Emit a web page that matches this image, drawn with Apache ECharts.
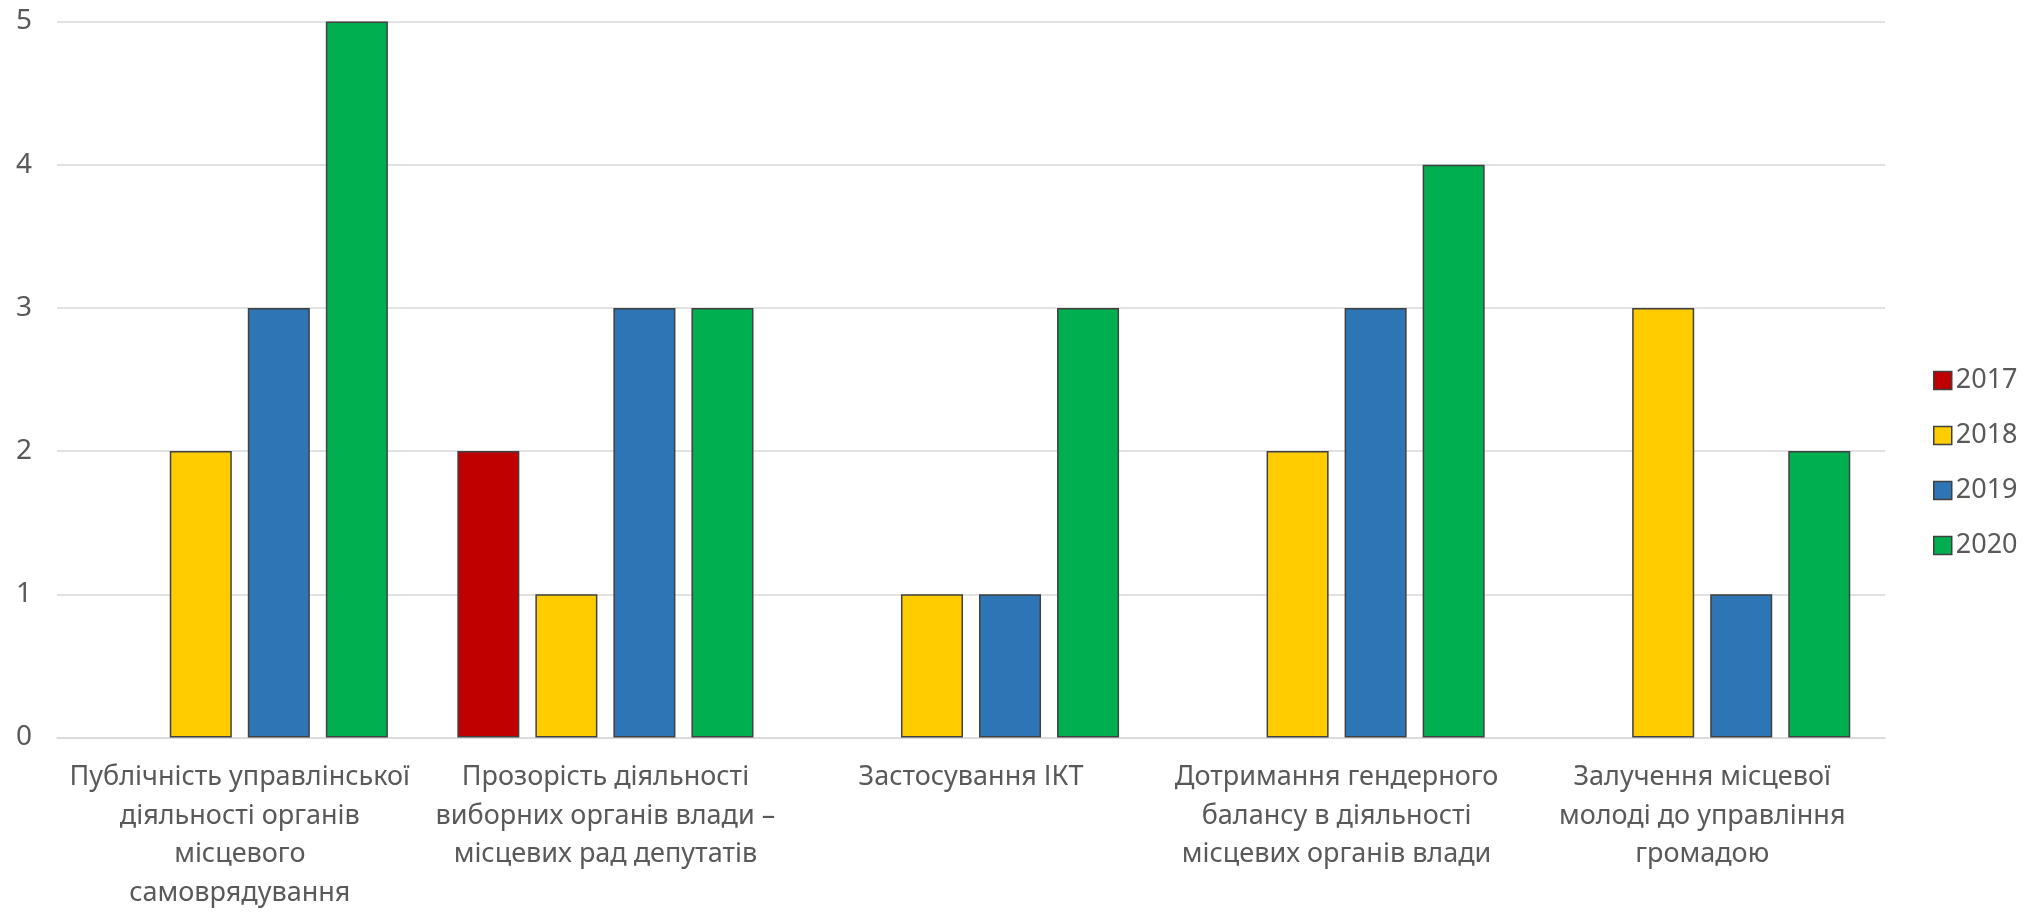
<!DOCTYPE html>
<html>
<head>
<meta charset="utf-8">
<script src="https://cdn.jsdelivr.net/npm/echarts@6/dist/echarts.min.js"></script>
<style>
html,body{margin:0;padding:0;background:#fff;}
#chart{width:2033px;height:913px;}
</style>
</head>
<body>
<div id="chart"></div>
<script>
const categories = [
  'Публічність управлінської\nдіяльності органів\nмісцевого\nсамоврядування',
  'Прозорість діяльності\nвиборних органів влади –\nмісцевих рад депутатів',
  'Застосування ІКТ',
  'Дотримання гендерного\nбалансу в діяльності\nмісцевих органів влади',
  'Залучення місцевої\nмолоді до управління\nгромадою'
];
const years = ['2017', '2018', '2019', '2020'];
const v2017 = [null, 2, null, null, null];
const v2018 = [2, 1, 1, 2, 3];
const v2019 = [3, 3, 1, 3, 1];
const v2020 = [5, 3, 3, 4, 2];
const yTicks = [0, 1, 2, 3, 4, 5];
const colors = ['#C00000', '#FFCC00', '#2E75B6', '#00B050'];

const values = [v2017, v2018, v2019, v2020];
const font = 'Noto Sans, sans-serif';
const chart = echarts.init(document.getElementById('chart'));
chart.setOption({
  animation: false,
  textStyle: { fontFamily: font },
  grid: { left: 57, right: 148, top: 21.5, bottom: 175.5, containLabel: false },
  legend: {
    orient: 'vertical',
    left: 1928,
    top: 362,
    icon: 'rect',
    itemWidth: 18,
    itemHeight: 18,
    itemGap: 28,
    data: years,
    textStyle: { color: '#595959', fontSize: 27, lineHeight: 27, fontFamily: font, padding: [0, 0, 0, -1] },
    itemStyle: { borderColor: '#404040', borderWidth: 1.5 }
  },
  xAxis: {
    type: 'category',
    data: categories,
    axisLine: { lineStyle: { color: '#d9d9d9', width: 1.5 } },
    axisTick: { show: false },
    axisLabel: { color: '#595959', fontSize: 27, lineHeight: 38.5, margin: 21, interval: 0, fontFamily: font }
  },
  yAxis: {
    type: 'value',
    min: 0, max: 5, interval: 1,
    axisLine: { show: false },
    axisTick: { show: false },
    splitLine: { lineStyle: { color: '#d9d9d9', width: 1.5 } },
    axisLabel: { color: '#595959', fontSize: 28, margin: 25, fontFamily: font }
  },
  series: years.map((y, i) => ({
    name: y,
    type: 'bar',
    data: values[i],
    barCategoryGap: '19%',
    barGap: '25.8%',
    itemStyle: { color: colors[i], borderColor: '#404040', borderWidth: 1.5 }
  }))
});
</script>
</body>
</html>
